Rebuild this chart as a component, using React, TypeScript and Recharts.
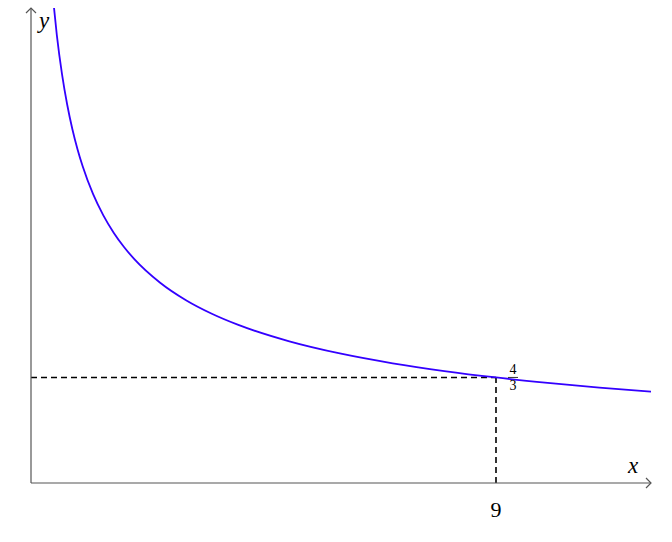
import { ComposedChart, Line, XAxis, YAxis, ReferenceLine, ReferenceDot } from 'recharts';

// curve points (x, y)
const xs = [0.43, 0.5, 0.6, 0.7, 0.8, 0.9, 1, 1.2, 1.4, 1.6, 1.8, 2, 2.5, 3, 3.5, 4, 5, 6, 7, 8, 9, 10, 11, 12];
const ys = [6.1, 5.657, 5.164, 4.781, 4.472, 4.216, 4, 3.651, 3.381, 3.162, 2.981, 2.828, 2.53, 2.309, 2.138, 2, 1.789, 1.633, 1.512, 1.414, 1.333, 1.265, 1.206, 1.155];
const xTicks = [9];
const markX = 9;
const markY = 4 / 3;

const data = xs.map((x, i) => ({ x, y: ys[i] }));

const AXIS = '#555';
const SERIF = '"Liberation Serif", "DejaVu Serif", serif';

const XArrow = (props: any) => {
  const { x, y, width } = props.viewBox;
  const ex = x + width;
  return (
    <g>
      <path d={`M${ex - 5},${y - 5} L${ex},${y} L${ex - 5},${y + 5}`} fill="none" stroke={AXIS} strokeWidth={1.2} />
      <text x={ex - 18} y={y - 10} textAnchor="middle" fontFamily={SERIF} fontStyle="italic" fontSize={23} fill="#000">
        x
      </text>
    </g>
  );
};

const YArrow = (props: any) => {
  const { x, y, width } = props.viewBox;
  const ax = x + width;
  return (
    <g>
      <path d={`M${ax - 5},${y + 5} L${ax},${y} L${ax + 5},${y + 5}`} fill="none" stroke={AXIS} strokeWidth={1.2} />
      <text x={ax + 13} y={y + 20} textAnchor="middle" fontFamily={SERIF} fontStyle="italic" fontSize={23} fill="#000">
        y
      </text>
    </g>
  );
};

const Fraction = (props: any) => {
  const { cx, cy } = props;
  const fx = cx + 17;
  return (
    <g fontFamily={SERIF} fontSize={14} fill="#000">
      <text x={fx} y={cy - 3} textAnchor="middle">4</text>
      <line x1={fx - 5} x2={fx + 5} y1={cy} y2={cy} stroke="#000" strokeWidth={0.8} />
      <text x={fx} y={cy + 13} textAnchor="middle">3</text>
    </g>
  );
};

export default function App() {
  return (
    <div style={{ position: 'absolute', left: 0, top: 0, background: '#fff' }}>
      <ComposedChart width={672} height={542} data={data} margin={{ top: 8, right: 21, bottom: 0, left: 0 }}>
        <XAxis
          dataKey="x"
          type="number"
          domain={[0, 12]}
          ticks={xTicks}
          tickLine={false}
          axisLine={{ stroke: AXIS, strokeWidth: 1.2 }}
          tick={{ fill: '#000', fontSize: 22, fontFamily: SERIF }}
          tickMargin={12}
          height={59}
          allowDataOverflow
          label={{ content: XArrow }}
        />
        <YAxis
          type="number"
          domain={[0, 6]}
          ticks={[]}
          tick={false}
          tickLine={false}
          axisLine={{ stroke: AXIS, strokeWidth: 1.2 }}
          width={31}
          allowDataOverflow
          label={{ content: YArrow }}
        />
        <ReferenceLine
          segment={[{ x: 0, y: markY }, { x: markX, y: markY }]}
          stroke="#000"
          strokeWidth={1.6}
          strokeDasharray="6 4"
        />
        <ReferenceLine
          segment={[{ x: markX, y: 0 }, { x: markX, y: markY }]}
          stroke="#000"
          strokeWidth={1.6}
          strokeDasharray="6 4"
        />
        <Line
          dataKey="y"
          type="monotone"
          stroke="#3300ff"
          strokeWidth={1.8}
          dot={false}
          isAnimationActive={false}
        />
        <ReferenceDot x={markX} y={markY} r={0} shape={Fraction} />
      </ComposedChart>
    </div>
  );
}
